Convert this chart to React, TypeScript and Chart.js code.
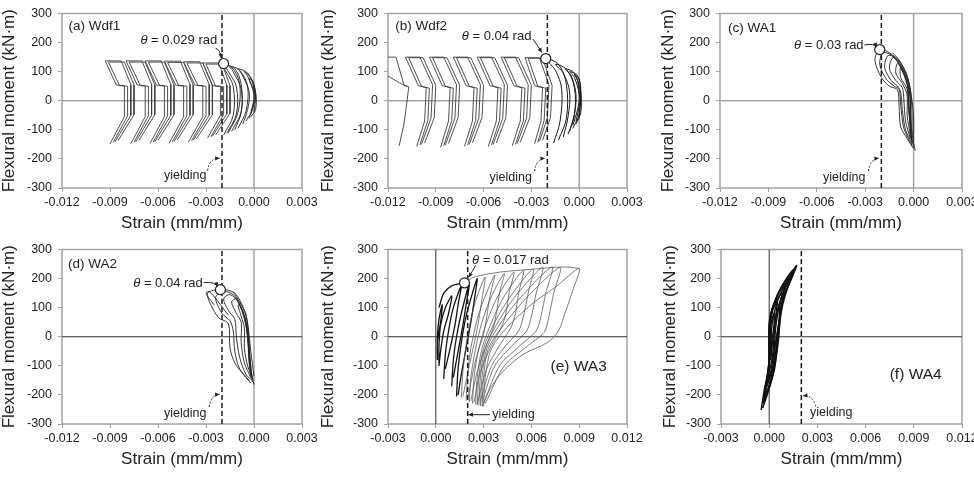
import React, { useEffect, useRef } from 'react';
import { Chart, registerables } from 'chart.js';

Chart.register(...registerables);

type P = [number, number];
const FONT = "'Liberation Sans', Arial, Helvetica, sans-serif";

// ---------- tick labels ----------
const xTicksNeg = [-0.012, -0.009, -0.006, -0.003, 0, 0.003];
const xTicksPos = [-0.003, 0, 0.003, 0.006, 0.009, 0.012];
const yTicks = [-300, -200, -100, 0, 100, 200, 300];

// ---------- (a) Wdf1 ----------
const wdf1Chevrons: P[][] = [
  [[-0.0090,-148],[-0.0081,-55],[-0.0081,52],[-0.0086,54],[-0.0093,137],[-0.0083,137],[-0.0077,56],[-0.0077,-50],[-0.0087,-142]],
  [[-0.0088,-143],[-0.0079,-52],[-0.0079,50],[-0.0084,52],[-0.0091,133],[-0.0081,133],[-0.0075,54],[-0.0075,-48],[-0.0085,-137]],
  [[-0.0077,-148],[-0.0068,-55],[-0.0068,52],[-0.0073,54],[-0.0080,137],[-0.0070,137],[-0.0064,56],[-0.0064,-50],[-0.0074,-142]],
  [[-0.0075,-143],[-0.0066,-52],[-0.0066,50],[-0.0071,52],[-0.0078,133],[-0.0068,133],[-0.0062,54],[-0.0062,-48],[-0.0072,-137]],
  [[-0.0065,-147],[-0.0056,-55],[-0.0056,52],[-0.0061,54],[-0.0068,137],[-0.0058,137],[-0.0052,56],[-0.0052,-50],[-0.0062,-141]],
  [[-0.0063,-142],[-0.0054,-52],[-0.0054,50],[-0.0059,52],[-0.0066,133],[-0.0056,133],[-0.0050,54],[-0.0050,-48],[-0.0060,-136]],
  [[-0.0053,-146],[-0.0044,-55],[-0.0044,52],[-0.0049,54],[-0.0056,136],[-0.0046,136],[-0.0040,56],[-0.0040,-50],[-0.0050,-140]],
  [[-0.0051,-141],[-0.0042,-52],[-0.0042,50],[-0.0047,52],[-0.0054,132],[-0.0044,132],[-0.0038,54],[-0.0038,-48],[-0.0048,-135]],
  [[-0.0041,-142],[-0.0032,-55],[-0.0032,52],[-0.0037,54],[-0.0044,134],[-0.0034,134],[-0.0028,56],[-0.0028,-50],[-0.0038,-136]],
  [[-0.0039,-137],[-0.0030,-52],[-0.0030,50],[-0.0035,52],[-0.0042,130],[-0.0032,130],[-0.0026,54],[-0.0026,-48],[-0.0036,-131]],
  [[-0.0029,-128],[-0.0021,-50],[-0.0021,50],[-0.0026,52],[-0.0032,130],[-0.0022,130],[-0.0017,54],[-0.0017,-45],[-0.0026,-122]],
  [[-0.0027,-124],[-0.0019,-48],[-0.0019,48],[-0.0024,50],[-0.0030,126],[-0.0020,126],[-0.0015,52],[-0.0015,-43],[-0.0024,-118]],
];
const wdf1Arcs: P[][] = [
  [[-0.0019,-118],[-0.0013,-50],[-0.0013,50],[-0.0018,105],[-0.0020,127],[-0.0014,115],[-0.0009,60],[-0.0010,-40],[-0.0016,-110]],
  [[-0.0017,-112],[-0.0011,-46],[-0.0011,48],[-0.0016,100],[-0.0018,122],[-0.0012,110],[-0.0008,56],[-0.0008,-38],[-0.0014,-105]],
  [[-0.0012,-100],[-0.0008,-40],[-0.0008,40],[-0.0013,100],[-0.0015,118],[-0.0009,105],[-0.0004,50],[-0.0005,-35],[-0.0010,-95]],
  [[-0.0007,-80],[-0.0004,-30],[-0.0003,30],[-0.0008,95],[-0.0010,110],[-0.0004,95],[0,40],[-0.0001,-30],[-0.0005,-70]],
  [[-0.0003,-60],[-0.0001,-20],[0,20],[-0.0004,85],[-0.0006,100],[-0.0002,80],[0.0001,30],[0.0001,-30],[-0.0002,-55]],
  [[-0.0002,-45],[0,-10],[0.0001,20],[-0.0003,75],[-0.0001,70],[0.0001,20],[0,-40]],
];
const wdf1Theta: P = [-0.0019, 128];

// ---------- (b) Wdf2 ----------
const wdf2Chevrons: P[][] = [
  [[-0.0120,150],[-0.0115,150],[-0.0110,55],[-0.0107,48],[-0.0108,0],[-0.0110,-80],[-0.0113,-155]],
  [[-0.0120,85],[-0.0113,62],[-0.0108,48]],
  [[-0.0102,-157],[-0.0097,-70],[-0.0096,45],[-0.0101,52],[-0.0109,150],[-0.0100,150],[-0.0092,55],[-0.0093,-60],[-0.0099,-150]],
  [[-0.0100,-152],[-0.0095,-68],[-0.0094,43],[-0.0099,50],[-0.0107,148],[-0.0098,148],[-0.0090,53],[-0.0091,-58],[-0.0097,-145]],
  [[-0.0087,-160],[-0.0082,-70],[-0.0081,45],[-0.0086,52],[-0.0094,150],[-0.0085,150],[-0.0077,55],[-0.0078,-60],[-0.0084,-152]],
  [[-0.0085,-155],[-0.0080,-68],[-0.0079,43],[-0.0084,50],[-0.0092,148],[-0.0083,148],[-0.0075,53],[-0.0076,-58],[-0.0082,-147]],
  [[-0.0072,-157],[-0.0067,-70],[-0.0066,45],[-0.0071,52],[-0.0079,150],[-0.0070,150],[-0.0062,55],[-0.0063,-60],[-0.0069,-150]],
  [[-0.0070,-152],[-0.0065,-68],[-0.0064,43],[-0.0069,50],[-0.0077,148],[-0.0068,148],[-0.0060,53],[-0.0061,-58],[-0.0067,-145]],
  [[-0.0057,-157],[-0.0052,-70],[-0.0051,45],[-0.0056,52],[-0.0064,150],[-0.0055,150],[-0.0047,55],[-0.0048,-60],[-0.0054,-150]],
  [[-0.0055,-152],[-0.0050,-68],[-0.0049,43],[-0.0054,50],[-0.0062,148],[-0.0053,148],[-0.0045,53],[-0.0046,-58],[-0.0052,-145]],
  [[-0.0042,-155],[-0.0037,-70],[-0.0036,45],[-0.0041,52],[-0.0049,150],[-0.0040,150],[-0.0032,55],[-0.0033,-60],[-0.0039,-148]],
  [[-0.0040,-150],[-0.0035,-68],[-0.0034,43],[-0.0039,50],[-0.0047,148],[-0.0038,148],[-0.0030,53],[-0.0031,-58],[-0.0037,-143]],
  [[-0.0028,-148],[-0.0024,-70],[-0.0023,45],[-0.0028,52],[-0.0034,148],[-0.0025,148],[-0.0019,55],[-0.0020,-60],[-0.0025,-140]],
  [[-0.0026,-143],[-0.0022,-68],[-0.0021,43],[-0.0026,50],[-0.0032,146],[-0.0023,146],[-0.0017,53],[-0.0018,-58],[-0.0023,-136]],
];
const wdf2Arcs: P[][] = [
  [[-0.0016,-145],[-0.0012,-70],[-0.0011,40],[-0.0015,105],[-0.0021,145],[-0.0013,125],[-0.0008,55],[-0.0008,-60],[-0.0013,-135]],
  [[-0.0010,-125],[-0.0007,-55],[-0.0006,30],[-0.0010,95],[-0.0015,125],[-0.0008,108],[-0.0003,45],[-0.0003,-50],[-0.0007,-115]],
  [[-0.0006,-105],[-0.0003,-45],[-0.0002,20],[-0.0005,85],[-0.0009,110],[-0.0003,95],[0,35],[0,-45],[-0.0004,-95]],
  [[-0.0004,-85],[-0.0001,-30],[0,20],[-0.0003,80],[-0.0006,100],[-0.0001,85],[0.0001,30],[0.0001,-40],[-0.0002,-80]],
  [[-0.0002,-70],[0,-20],[0.0001,20],[-0.0001,70],[-0.0003,90],[0,75],[0.0001,20],[0,-60]],
];
const wdf2Theta: P = [-0.0021, 145];

// ---------- (c) WA1 ----------
const wa1Loops: P[][] = [
  [[0.0001,-172],[-0.0001,-110],[-0.0002,-20],[-0.0003,60],[-0.0008,130],[-0.0015,165],[-0.0021,176],[-0.0024,140],[-0.0020,80],[-0.0015,50],[-0.0010,38],[-0.0009,-20],[-0.0008,-90],[-0.0004,-130],[0,-165]],
  [[0,-160],[-0.0002,-100],[-0.0003,-10],[-0.0004,60],[-0.0009,125],[-0.0014,158],[-0.0019,165],[-0.0021,125],[-0.0017,75],[-0.0012,50],[-0.0009,40],[-0.0008,-15],[-0.0006,-95],[-0.0001,-155]],
  [[-0.0001,-150],[-0.0002,-90],[-0.0003,0],[-0.0004,55],[-0.0008,115],[-0.0012,150],[-0.0016,155],[-0.0018,115],[-0.0014,70],[-0.0010,50],[-0.0008,30],[-0.0007,-30],[-0.0005,-100],[-0.0001,-145]],
  [[-0.0001,-140],[-0.0002,-80],[-0.0002,0],[-0.0003,50],[-0.0006,100],[-0.0010,140],[-0.0013,148],[-0.0015,110],[-0.0011,70],[-0.0007,45],[-0.0006,0],[-0.0005,-70],[-0.0002,-130]],
  [[-0.0002,-130],[-0.0002,-60],[-0.0002,10],[-0.0004,60],[-0.0007,110],[-0.0010,128],[-0.0011,95],[-0.0007,60],[-0.0004,20],[-0.0004,-50],[-0.0002,-120]],
  [[-0.0001,-120],[-0.0001,-40],[-0.0002,40],[-0.0005,95],[-0.0008,115],[-0.0008,80],[-0.0004,40],[-0.0003,-40],[-0.0001,-110]],
  [[0,-138],[0,-60],[-0.0001,0],[-0.0004,87],[-0.0009,140],[-0.0013,165]],
];
const wa1Theta: P = [-0.0021, 176];

// ---------- (d) WA2 ----------
const wa2Loops: P[][] = [
  [[0,-165],[-0.0002,-110],[-0.0003,-20],[-0.0004,40],[-0.0006,90],[-0.0012,150],[-0.0021,163],[-0.0029,150],[-0.0027,110],[-0.0022,65],[-0.0016,45],[-0.0015,-40],[-0.0012,-90],[-0.0008,-120],[-0.0002,-160]],
  [[-0.0001,-155],[-0.0002,-100],[-0.0004,0],[-0.0005,50],[-0.0008,100],[-0.0013,145],[-0.0019,155],[-0.0024,135],[-0.0020,80],[-0.0015,55],[-0.0013,20],[-0.0012,-50],[-0.0009,-110],[-0.0003,-150]],
  [[-0.0001,-150],[-0.0003,-90],[-0.0004,0],[-0.0006,60],[-0.0010,120],[-0.0015,145],[-0.0019,130],[-0.0016,90],[-0.0012,60],[-0.0011,0],[-0.0009,-70],[-0.0005,-130],[-0.0001,-150]],
  [[-0.0002,-140],[-0.0003,-80],[-0.0004,0],[-0.0006,70],[-0.0011,130],[-0.0014,120],[-0.0011,80],[-0.0008,50],[-0.0008,-20],[-0.0006,-90],[-0.0002,-140]],
  [[-0.0002,-130],[-0.0003,-60],[-0.0004,20],[-0.0007,90],[-0.0010,110],[-0.0008,70],[-0.0006,30],[-0.0006,-40],[-0.0004,-100],[-0.0002,-130]],
  [[-0.0025,110],[-0.0030,150],[-0.0028,155],[-0.0023,125],[-0.0019,95],[-0.0016,75]],
  [[0,-136],[-0.0002,-50],[-0.0003,2],[-0.0005,76],[-0.0009,120],[-0.0013,155]],
];
const wa2Theta: P = [-0.0021, 162];

// ---------- (e) WA3 ----------
const wa3Inner: P[][] = [
  [[0.0002,-100],[0.0002,-30],[0.0003,40],[0.0006,100],[0.0010,140],[0.0008,80],[0.0005,20],[0.0003,-50],[0.0002,-100]],
  [[0.0001,-80],[0.0001,0],[0.0002,60],[0.0004,110],[0.0003,50],[0.0001,-20],[0.0001,-80]],
  [[0.0005,-145],[0.0006,-60],[0.0008,20],[0.0011,100],[0.0016,175],[0.0014,110],[0.0012,40],[0.0009,-40],[0.0006,-110]],
  [[0.0010,-170],[0.0011,-80],[0.0013,0],[0.0016,80],[0.0021,180],[0.0019,110],[0.0017,40],[0.0014,-50],[0.0011,-140]],
  [[0.0013,-205],[0.0014,-110],[0.0016,-20],[0.0019,70],[0.0023,150],[0.0026,200],[0.0024,120],[0.0022,50],[0.0019,-40],[0.0016,-130],[0.0014,-200]],
  [[0.0002,100],[0.0005,150],[0.0010,175],[0.0018,185]],
];
const wa3Outer: P[][] = [
  [[0.0016,-210],[0.0017,-120],[0.0019,-30],[0.0022,60],[0.0026,140],[0.0031,205],[0.0029,130],[0.0027,60],[0.0025,0],[0.0021,-100],[0.0017,-205]],
  [[0.0019,-220],[0.0020,-130],[0.0022,-40],[0.0026,60],[0.0031,140],[0.0037,212],[0.0034,140],[0.0032,70],[0.0030,10],[0.0025,-80],[0.0020,-215]],
  [[0.0021,-225],[0.0022,-140],[0.0025,-40],[0.0029,50],[0.0035,140],[0.0043,218],[0.0040,150],[0.0038,80],[0.0036,30],[0.0031,-40],[0.0026,-120],[0.0022,-220]],
  [[0.0023,-230],[0.0024,-140],[0.0027,-40],[0.0032,50],[0.0039,140],[0.0049,222],[0.0046,150],[0.0044,80],[0.0041,30],[0.0035,-30],[0.0028,-120],[0.0024,-225]],
  [[0.0025,-233],[0.0026,-140],[0.0029,-40],[0.0035,50],[0.0043,140],[0.0055,228],[0.0052,150],[0.0050,80],[0.0047,30],[0.0040,-30],[0.0032,-110],[0.0026,-230]],
  [[0.0026,-235],[0.0027,-140],[0.0030,-40],[0.0037,50],[0.0047,140],[0.0061,232],[0.0058,150],[0.0055,70],[0.0052,20],[0.0044,-30],[0.0035,-100],[0.0028,-220]],
  [[0.0027,-236],[0.0028,-140],[0.0031,-40],[0.0039,50],[0.0050,140],[0.0067,238],[0.0063,150],[0.0060,70],[0.0057,20],[0.0048,-30],[0.0037,-100],[0.0029,-225]],
  [[0.0028,-238],[0.0029,-140],[0.0032,-40],[0.0041,50],[0.0054,140],[0.0073,240],[0.0069,150],[0.0066,70],[0.0063,20],[0.0053,-30],[0.0040,-100],[0.0030,-230]],
  [[0.0029,-238],[0.0030,-140],[0.0033,-40],[0.0044,50],[0.0058,140],[0.0078,238],[0.0074,150],[0.0071,70],[0.0068,15],[0.0058,-30],[0.0043,-100],[0.0031,-230]],
  [[0.0030,-240],[0.0031,-140],[0.0035,-40],[0.0046,40],[0.0062,120],[0.0075,170],[0.0090,235],[0.0086,160],[0.0081,80],[0.0077,20],[0.0070,-20],[0.0055,-60],[0.0042,-120],[0.0034,-180],[0.0029,-240]],
  [[0.0018,185],[0.0024,205],[0.0040,222],[0.0060,232],[0.0080,240],[0.0090,235]],
];
const wa3Theta: P = [0.0018, 185];

// ---------- (f) WA4 ----------
const wa4Loops: P[][] = [
  [[-0.0005,-252],[-0.0003,-180],[0,-100],[0.0001,-20],[0.0002,50],[0.0005,120],[0.0010,180],[0.0017,245],[0.0014,200],[0.0010,150],[0.0007,80],[0.0006,0],[0.0004,-80],[0.0001,-160],[-0.0004,-245]],
  [[-0.0004,-230],[-0.0002,-160],[0,-80],[0,0],[0.0001,60],[0.0004,130],[0.0009,185],[0.0015,230],[0.0012,180],[0.0008,120],[0.0006,40],[0.0005,-40],[0.0003,-120],[-0.0001,-190],[-0.0004,-230]],
  [[-0.0003,-210],[-0.0001,-140],[0,-60],[0,20],[0.0001,80],[0.0005,140],[0.0012,205],[0.0009,150],[0.0007,80],[0.0005,10],[0.0004,-70],[0.0001,-150],[-0.0003,-210]],
  [[-0.0002,-180],[0,-110],[0,-30],[0,50],[0.0002,100],[0.0006,150],[0.0010,180],[0.0007,120],[0.0006,50],[0.0004,-20],[0.0002,-110],[-0.0002,-180]],
  [[-0.0001,-150],[0,-80],[0,0],[0.0001,70],[0.0003,110],[0.0008,150],[0.0006,100],[0.0004,30],[0.0003,-50],[0.0001,-120],[-0.0001,-150]],
  [[0,-120],[0,-50],[0,30],[0.0002,90],[0.0005,120],[0.0004,70],[0.0003,0],[0.0002,-70],[0,-120]],
  [[0,-90],[0.0001,-30],[0.0001,40],[0.0003,80],[0.0003,40],[0.0002,-20],[0.0001,-80]],
  [[-0.0003,-220],[-0.0001,-130],[0.0001,-40],[0.0003,30],[0.0006,110],[0.0012,190],[0.0016,235],[0.0011,160],[0.0008,100],[0.0006,20],[0.0003,-90],[0,-170],[-0.0003,-220]],
];

// ---------- layout / annotations ----------
type TextAnn = { t: 'text'; x: number; y: number; text: string; size: number; align: 'left' | 'right' | 'center'; theta?: boolean };
type ArrowAnn = { t: 'arrow'; from: P; ctrl: P; to: P; dash?: boolean };
type Ann = TextAnn | ArrowAnn;
type Group = { lines: P[][]; color: string; width: number; tension: number };
type PanelCfg = {
  key: string; left: number; top: number; width: number; height: number;
  padTop: number; titlePad: number; xTicks: number[]; yieldX: number;
  theta?: P; groups: Group[]; hZero: [string, number]; vZero: [string, number]; ann: Ann[];
};

const GRAY = '#a3a3a3';

const PANELS: PanelCfg[] = [
  {
    key: 'a', left: -8, top: 0, width: 335, height: 236, padTop: 10, titlePad: 6.8,
    xTicks: xTicksNeg, yieldX: -0.002, theta: wdf1Theta,
    groups: [
      { lines: wdf1Chevrons, color: '#3c3c3c', width: 0.9, tension: 0 },
      { lines: wdf1Arcs, color: '#222', width: 0.9, tension: 0.35 },
    ],
    hZero: [GRAY, 1.5], vZero: [GRAY, 1.5],
    ann: [
      { t: 'text', x: -0.0116, y: 256, text: '(a) Wdf1', size: 13.5, align: 'left' },
      { t: 'text', x: -0.0023, y: 206, text: ' = 0.029 rad', size: 13, align: 'right', theta: true },
      { t: 'arrow', from: [-0.0024, 180], ctrl: [-0.00212, 178], to: [-0.00205, 146] },
      { t: 'text', x: -0.0043, y: -256, text: 'yielding', size: 12.5, align: 'center' },
      { t: 'arrow', from: [-0.0029, -240], ctrl: [-0.0028, -198], to: [-0.00215, -198], dash: true },
    ],
  },
  {
    key: 'b', left: 318, top: 0, width: 334, height: 236, padTop: 10, titlePad: 0,
    xTicks: xTicksNeg, yieldX: -0.002, theta: wdf2Theta,
    groups: [
      { lines: wdf2Chevrons, color: '#3c3c3c', width: 0.9, tension: 0 },
      { lines: wdf2Arcs, color: '#1a1a1a', width: 1, tension: 0.35 },
    ],
    hZero: [GRAY, 1.5], vZero: [GRAY, 1.5],
    ann: [
      { t: 'text', x: -0.01155, y: 256, text: '(b) Wdf2', size: 13.5, align: 'left' },
      { t: 'text', x: -0.0030, y: 222, text: ' = 0.04 rad', size: 13, align: 'right', theta: true },
      { t: 'arrow', from: [-0.0029, 212], ctrl: [-0.0026, 190], to: [-0.00235, 166] },
      { t: 'text', x: -0.0043, y: -263, text: 'yielding', size: 12.5, align: 'center' },
      { t: 'arrow', from: [-0.0028, -242], ctrl: [-0.0027, -200], to: [-0.00215, -198], dash: true },
    ],
  },
  {
    key: 'c', left: 650, top: 0, width: 337, height: 236, padTop: 10, titlePad: 7.8,
    xTicks: xTicksNeg, yieldX: -0.002, theta: wa1Theta,
    groups: [{ lines: wa1Loops, color: '#222', width: 0.9, tension: 0.3 }],
    hZero: [GRAY, 1.5], vZero: [GRAY, 1.5],
    ann: [
      { t: 'text', x: -0.0115, y: 249, text: '(c) WA1', size: 13.5, align: 'left' },
      { t: 'text', x: -0.0031, y: 189, text: ' = 0.03 rad', size: 13, align: 'right', theta: true },
      { t: 'arrow', from: [-0.00305, 192], ctrl: [-0.0024, 198], to: [-0.00228, 184] },
      { t: 'text', x: -0.0043, y: -263, text: 'yielding', size: 12.5, align: 'center' },
      { t: 'arrow', from: [-0.0028, -242], ctrl: [-0.0027, -200], to: [-0.00215, -198], dash: true },
    ],
  },
  {
    key: 'd', left: -8, top: 236, width: 335, height: 236, padTop: 9, titlePad: 6.8,
    xTicks: xTicksNeg, yieldX: -0.002, theta: wa2Theta,
    groups: [{ lines: wa2Loops, color: '#222', width: 0.9, tension: 0.3 }],
    hZero: ['#333', 1], vZero: [GRAY, 1.5],
    ann: [
      { t: 'text', x: -0.01163, y: 250, text: '(d) WA2', size: 13.5, align: 'left' },
      { t: 'text', x: -0.0032, y: 183, text: ' = 0.04 rad', size: 13, align: 'right', theta: true },
      { t: 'arrow', from: [-0.00315, 186], ctrl: [-0.0024, 190], to: [-0.00228, 172] },
      { t: 'text', x: -0.0043, y: -263, text: 'yielding', size: 12.5, align: 'center' },
      { t: 'arrow', from: [-0.0028, -242], ctrl: [-0.0027, -200], to: [-0.00215, -198], dash: true },
    ],
  },
  {
    key: 'e', left: 318, top: 236, width: 334, height: 236, padTop: 9, titlePad: 0,
    xTicks: xTicksPos, yieldX: 0.002, theta: wa3Theta,
    groups: [
      { lines: wa3Outer, color: '#5a5a5a', width: 0.8, tension: 0.3 },
      { lines: wa3Inner, color: '#111', width: 1.3, tension: 0.3 },
    ],
    hZero: ['#333', 1], vZero: ['#333', 1],
    ann: [
      { t: 'text', x: 0.00227, y: 262, text: ' = 0.017 rad', size: 13, align: 'left', theta: true },
      { t: 'arrow', from: [0.0025, 245], ctrl: [0.0023, 225], to: [0.00205, 205] },
      { t: 'text', x: 0.0072, y: -102, text: '(e) WA3', size: 15.5, align: 'left' },
      { t: 'text', x: 0.00355, y: -268, text: 'yielding', size: 12.5, align: 'left' },
      { t: 'arrow', from: [0.0034, -268], ctrl: [0.0027, -268], to: [0.00205, -268] },
    ],
  },
  {
    key: 'f', left: 651, top: 236, width: 336, height: 236, padTop: 9, titlePad: 8.8,
    xTicks: xTicksPos, yieldX: 0.002,
    groups: [{ lines: wa4Loops, color: '#111', width: 1.4, tension: 0.3 }],
    hZero: ['#333', 1], vZero: ['#333', 1],
    ann: [
      { t: 'text', x: 0.0075, y: -129, text: '(f) WA4', size: 15.5, align: 'left' },
      { t: 'text', x: 0.00254, y: -260, text: 'yielding', size: 12.5, align: 'left' },
      { t: 'arrow', from: [0.0029, -240], ctrl: [0.0027, -200], to: [0.0021, -203], dash: true },
    ],
  },
];

function fmtX(v: number) {
  const r = Math.round(v * 1000) / 1000;
  return Math.abs(r) < 1e-9 ? '0.000' : r.toFixed(3);
}

function annPlugin(items: Ann[]) {
  return {
    id: 'ann',
    beforeDatasetsDraw(chart: any) {
      const { ctx, chartArea: a } = chart;
      ctx.save();
      ctx.strokeStyle = GRAY;
      ctx.lineWidth = 1.5;
      ctx.strokeRect(a.left, a.top, a.right - a.left, a.bottom - a.top);
      ctx.restore();
    },
    afterDatasetsDraw(chart: any) {
      const ctx = chart.ctx;
      const xs = chart.scales.x;
      const ys = chart.scales.y;
      const X = (v: number) => xs.getPixelForValue(v);
      const Y = (v: number) => ys.getPixelForValue(v);
      ctx.save();
      for (const it of items) {
        if (it.t === 'text') {
          const px = X(it.x);
          const py = Y(it.y);
          ctx.fillStyle = '#222';
          ctx.textBaseline = 'middle';
          ctx.textAlign = 'left';
          const nf = `${it.size}px ${FONT}`;
          const itf = `italic ${it.size}px ${FONT}`;
          const pre = it.theta ? 'θ' : '';
          ctx.font = itf;
          const w1 = pre ? ctx.measureText(pre).width : 0;
          ctx.font = nf;
          const w2 = ctx.measureText(it.text).width;
          const total = w1 + w2;
          const x0 = it.align === 'left' ? px : it.align === 'right' ? px - total : px - total / 2;
          if (pre) {
            ctx.font = itf;
            ctx.fillText(pre, x0, py);
          }
          ctx.font = nf;
          ctx.fillText(it.text, x0 + w1, py);
        } else {
          const x1 = X(it.from[0]), y1 = Y(it.from[1]);
          const x2 = X(it.ctrl[0]), y2 = Y(it.ctrl[1]);
          const x3 = X(it.to[0]), y3 = Y(it.to[1]);
          ctx.strokeStyle = '#222';
          ctx.lineWidth = 1;
          ctx.setLineDash(it.dash ? [2, 1.5] : []);
          ctx.beginPath();
          ctx.moveTo(x1, y1);
          ctx.quadraticCurveTo(x2, y2, x3, y3);
          ctx.stroke();
          ctx.setLineDash([]);
          const ang = Math.atan2(y3 - y2, x3 - x2);
          const hl = 5;
          ctx.fillStyle = '#222';
          ctx.beginPath();
          ctx.moveTo(x3, y3);
          ctx.lineTo(x3 - hl * Math.cos(ang - 0.45), y3 - hl * Math.sin(ang - 0.45));
          ctx.lineTo(x3 - hl * Math.cos(ang + 0.45), y3 - hl * Math.sin(ang + 0.45));
          ctx.closePath();
          ctx.fill();
        }
      }
      ctx.restore();
    },
  };
}

function buildChart(canvas: HTMLCanvasElement, cfg: PanelCfg) {
  const xmin = cfg.xTicks[0];
  const xmax = cfg.xTicks[cfg.xTicks.length - 1];
  const ymin = yTicks[0];
  const ymax = yTicks[yTicks.length - 1];
  const toXY = (pts: P[]) => pts.map(([x, y]) => ({ x, y }));
  const datasets: any[] = [];
  if (cfg.theta) {
    datasets.push({
      data: toXY([cfg.theta]), showLine: false, pointRadius: 5,
      pointBackgroundColor: '#fff', pointBorderColor: '#222', pointBorderWidth: 1.2,
    });
  }
  datasets.push({
    data: toXY([[cfg.yieldX, ymin], [cfg.yieldX, ymax]]), showLine: true,
    borderColor: '#1a1a1a', borderWidth: 1.5, borderDash: [5, 3], pointRadius: 0,
  });
  for (const g of cfg.groups) {
    for (const line of g.lines) {
      datasets.push({
        data: toXY(line), showLine: true, borderColor: g.color, borderWidth: g.width,
        tension: g.tension, pointRadius: 0, fill: false,
      });
    }
  }
  datasets.push({
    data: toXY([[xmin, 0], [xmax, 0]]), showLine: true,
    borderColor: cfg.hZero[0], borderWidth: cfg.hZero[1], pointRadius: 0,
  });
  datasets.push({
    data: toXY([[0, ymin], [0, ymax]]), showLine: true,
    borderColor: cfg.vZero[0], borderWidth: cfg.vZero[1], pointRadius: 0,
  });

  const tickFont = { family: FONT, size: 12.5 };
  const titleFont = { family: FONT, size: 17 };
  const grid = { display: true, drawOnChartArea: false, drawTicks: true, tickLength: 4, color: GRAY, lineWidth: 1 };

  return new Chart(canvas, {
    type: 'scatter',
    data: { datasets },
    options: {
      responsive: false,
      animation: false,
      devicePixelRatio: 1,
      events: [],
      layout: { padding: { top: cfg.padTop, right: 25, bottom: 0, left: 0 } },
      plugins: { legend: { display: false }, tooltip: { enabled: false } },
      scales: {
        x: {
          type: 'linear', min: xmin, max: xmax,
          afterBuildTicks: (s: any) => { s.ticks = cfg.xTicks.map((v) => ({ value: v })); },
          afterFit: (s: any) => { s.height = 48; },
          grid, border: { display: false },
          ticks: { padding: 3, color: '#222', font: tickFont, maxRotation: 0, autoSkip: false, callback: (v: any) => fmtX(Number(v)) },
          title: { display: true, text: 'Strain (mm/mm)', color: '#222', font: titleFont, padding: { top: 0, bottom: 2 } },
        },
        y: {
          type: 'linear', min: ymin, max: ymax,
          afterBuildTicks: (s: any) => { s.ticks = yTicks.map((v) => ({ value: v })); },
          afterFit: (s: any) => { s.width = 70; },
          grid, border: { display: false },
          ticks: { padding: 6, color: '#222', font: tickFont, autoSkip: false, callback: (v: any) => String(v) },
          title: { display: true, text: 'Flexural moment (kN·m)', color: '#222', font: titleFont, padding: { top: cfg.titlePad, bottom: 0 } },
        },
      },
    } as any,
    plugins: [annPlugin(cfg.ann)],
  });
}

function PanelChart({ cfg }: { cfg: PanelCfg }) {
  const ref = useRef<HTMLCanvasElement>(null);
  useEffect(() => {
    if (!ref.current) return;
    const chart = buildChart(ref.current, cfg);
    return () => chart.destroy();
  }, [cfg]);
  return (
    <canvas
      ref={ref}
      width={cfg.width}
      height={cfg.height}
      style={{ position: 'absolute', left: cfg.left, top: cfg.top, width: cfg.width, height: cfg.height }}
    />
  );
}

export default function App() {
  return (
    <div style={{ position: 'absolute', left: 0, top: 0, width: 974, height: 477, overflow: 'hidden', background: '#fff' }}>
      {PANELS.map((p) => <PanelChart key={p.key} cfg={p} />)}
    </div>
  );
}
